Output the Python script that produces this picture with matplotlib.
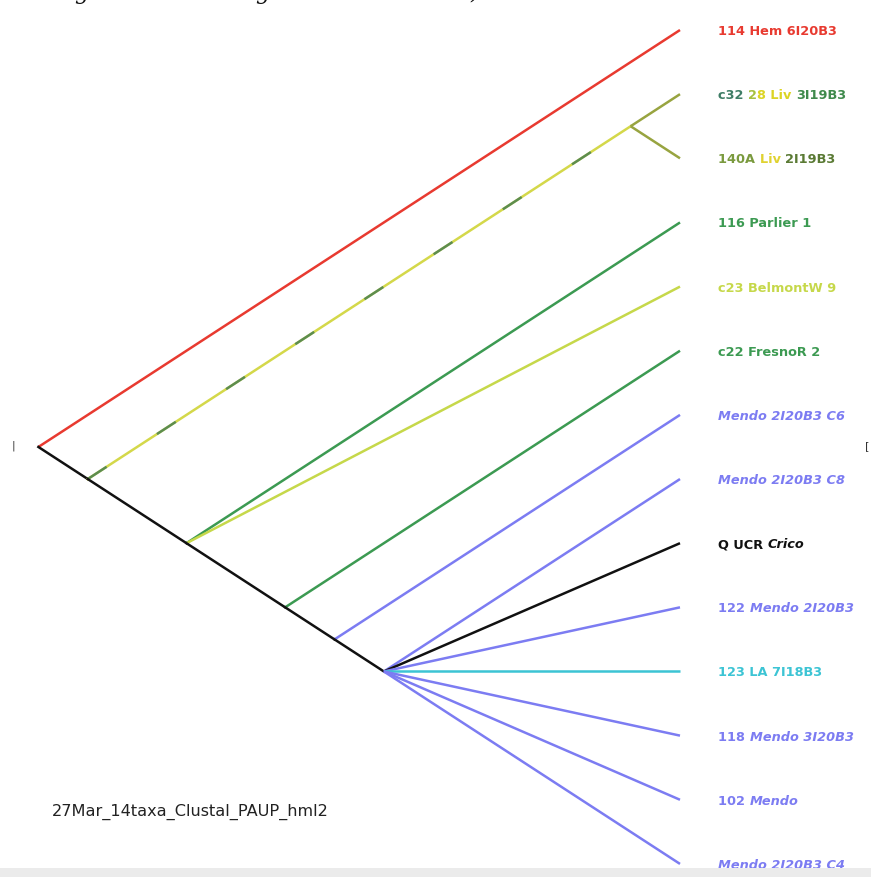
import matplotlib
matplotlib.use('Agg')
import matplotlib.pyplot as plt
from matplotlib.patches import Rectangle

# tips, top to bottom
taxa = ['114 Hem 6I20B3', 'c32 28 Liv 3I19B3', '140A Liv 2I19B3', '116 Parlier 1',
        'c23 BelmontW 9', 'c22 FresnoR 2', 'Mendo 2I20B3 C6', 'Mendo 2I20B3 C8',
        'Q UCR Crico', '122 Mendo 2I20B3', '123 LA 7I18B3', '118 Mendo 3I20B3',
        '102 Mendo', 'Mendo 2I20B3 C4']

# topology as nested tuples of tip indices
tree = (0, ((1, 2), (3, 4, (5, (6, (7, 8, 9, 10, 11, 12, 13))))))

red = '#e83a30'
green = '#3c9a52'
lime = '#c6d84a'
olive = '#98a440'
blue = '#7c7cf2'
cyan = '#3cc4d4'
black = '#111111'

tip_colors = [red, olive, olive, green, lime, green, blue, blue,
              black, blue, cyan, blue, blue, blue]

# internal branches that are not black: (base colour, dash colour)
mixed_clades = {(1, 2): ('#d4d84a', '#3f7a50')}

# label pieces: (text, colour, style)
label_parts = [
    [('114 Hem 6I20B3', red, 'normal')],
    [('c32 ', '#3f7d66', 'normal'), ('2', '#a6c040', 'normal'), ('8 Liv ', '#dcd424', 'normal'),
     ('3I19B3', '#3f8a4c', 'normal')],
    [('140A ', '#7a9a3e', 'normal'), ('Liv ', '#e0d230', 'normal'), ('2I19B3', '#5a7a34', 'normal')],
    [('116 Parlier 1', green, 'normal')],
    [('c23 BelmontW 9', lime, 'normal')],
    [('c22 FresnoR 2', green, 'normal')],
    [('Mendo 2I20B3 C6', blue, 'italic')],
    [('Mendo 2I20B3 C8', blue, 'italic')],
    [('Q UCR ', black, 'normal'), ('Crico', black, 'italic')],
    [('122 ', blue, 'normal'), ('Mendo 2I20B3', blue, 'italic')],
    [('123 LA 7I18B3', cyan, 'normal')],
    [('118 ', blue, 'normal'), ('Mendo 3I20B3', blue, 'italic')],
    [('102 ', blue, 'normal'), ('Mendo', blue, 'italic')],
    [('Mendo 2I20B3 C4', blue, 'italic')],
]

caption = '27Mar_14taxa_Clustal_PAUP_hml2'


def span(node):
    if isinstance(node, int):
        return node, node
    ends = [span(c) for c in node]
    return min(e[0] for e in ends), max(e[1] for e in ends)


def pos(node):
    lo, hi = span(node)
    return -(hi - lo) / 2, (hi + lo) / 2


fig = plt.figure(figsize=(8.71, 8.77), dpi=100)
ax = fig.add_axes([0, 0, 1, 1])
ax.set_xlim(-6.889, 1.935)
ax.set_ylim(13.204, -0.468)
ax.axis('off')


def draw(node):
    x0, y0 = pos(node)
    for child in node:
        x1, y1 = pos(child)
        if isinstance(child, int):
            ax.plot([x0, x1], [y0, y1], color=tip_colors[child], lw=1.8, solid_capstyle='butt')
        else:
            key = span(child)
            if key in mixed_clades:
                base, dash = mixed_clades[key]
                ax.plot([x0, x1], [y0, y1], color=base, lw=1.8)
                ln, = ax.plot([x0, x1], [y0, y1], color=dash, lw=1.8, alpha=0.8)
                ln.set_dashes((9, 24))
            else:
                ax.plot([x0, x1], [y0, y1], color=black, lw=1.8)
            draw(child)


draw(tree)

renderer = fig.canvas.get_renderer()
fsize = 9.3


def width_pt(s, style):
    probe = ax.text(0, 0, s + 'x', fontsize=fsize, fontweight='bold', style=style)
    ref = ax.text(0, 0, 'x', fontsize=fsize, fontweight='bold', style=style)
    w = probe.get_window_extent(renderer).width - ref.get_window_extent(renderer).width
    probe.remove()
    ref.remove()
    return w * 72 / fig.dpi


for i, parts in enumerate(label_parts):
    off = 27.5
    for s, c, st in parts:
        ax.annotate(s, xy=(0, i), xytext=(off, 0), textcoords='offset points',
                    ha='left', va='center_baseline', fontsize=fsize, fontweight='bold',
                    style=st, color=c)
        off += width_pt(s, st)

fig.text(52 / 871, 1 - 812 / 877, caption, fontsize=11.6, color='#222222', va='center')
fig.text(12 / 871, 1 - 446 / 877, '|', fontsize=8, color='#333333', va='center')
fig.text(865 / 871, 1 - 446 / 877, '[', fontsize=8, color='#333333', va='center')

# cropped line of text above the picture: only descenders show
for gx, g in [(74, 'g'), (255, 'g'), (470, ')')]:
    fig.text(gx / 871, 1 + 1 / 877, g, fontsize=16, style='italic', color='#111111',
             va='baseline', family='DejaVu Serif')

fig.patches.append(Rectangle((0, 0), 1, 9 / 877, transform=fig.transFigure,
                             facecolor='#ebebeb', edgecolor='none'))

fig.savefig('out.png', dpi=100)
